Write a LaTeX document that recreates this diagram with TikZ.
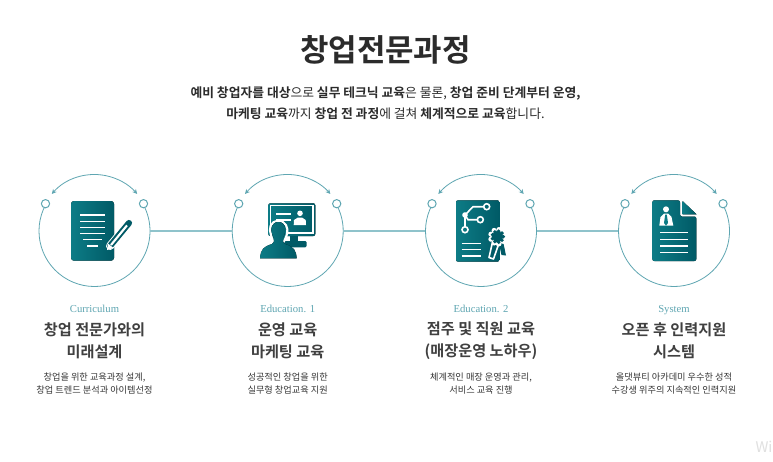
\documentclass[tikz,border=0pt]{standalone}
\usepackage{fontspec}
\setmainfont{Noto Sans CJK KR}[BoldFont={Noto Sans CJK KR Bold}]
\newfontfamily\latinfont{Liberation Serif}
\usetikzlibrary{arrows.meta}
\definecolor{tealA}{HTML}{0D7C86}
\definecolor{tealB}{HTML}{005A66}
\definecolor{ringcol}{HTML}{5FA6B2}
\definecolor{linkcol}{HTML}{8FC3CB}
\definecolor{inkcol}{HTML}{2B2B2B}
\tikzset{
    hub/.style={circle,minimum size=83.25pt,inner sep=0pt},
    dot/.style={circle,draw=ringcol,fill=white,line width=0.75pt,minimum size=6.2pt,inner sep=0pt},
    ring/.style={draw=ringcol,line width=0.6pt},
    link/.style={draw=linkcol,line width=0.8pt},
    swing/.style={draw=ringcol,line width=0.6pt,{Stealth[length=3.5pt,width=3.5pt]}-{Stealth[length=3.5pt,width=3.5pt]}},
    paper/.style={left color=tealA,right color=tealB,draw=none},
    wline/.style={draw=white,line width=1.05pt},
    toptitle/.style={font=\bfseries\fontsize{23.2}{26}\selectfont,text=inkcol,inner sep=0pt},
    lead/.style={font=\fontsize{9.6}{15.75}\selectfont,text=inkcol,align=center,inner sep=0pt},
    tag/.style={font=\latinfont\fontsize{8}{10}\selectfont,text=ringcol,inner sep=0pt,anchor=base},
    head/.style={font=\bfseries\fontsize{11.4}{16.5}\selectfont,text=inkcol!90,align=center,inner sep=0pt},
    desc/.style={font=\fontsize{6.9}{10}\selectfont,text=inkcol!95,align=center,inner sep=0pt}
}
\begin{document}
\begin{tikzpicture}[x=0.75pt,y=-0.75pt]
    \useasboundingbox[fill=white] (0,0) rectangle (773,461);
    \node[toptitle] (title) at (385.5,50) {창업전문과정};
    \node[lead] (intro) at (385.5,103) {\textbf{예비 창업자를 대상}으로 \textbf{실무 테크닉 교육}은 물론, \textbf{창업 준비 단계부터 운영,}\\\textbf{마케팅 교육}까지 \textbf{창업 전 과정}에 걸쳐 \textbf{체계적으로 교육}합니다.};
    % rings
    \foreach \n/\x in {1/94.5,2/287.7,3/481,4/674}
    {
        \node[hub] (hub\n) at (\x,231) {};
        \draw[ring] ([shift={(208.6:55.5)}]\x,231) arc[start angle=208.6,end angle=-28.6,radius=55.5];
        \draw[swing] ([shift={(221:56.5)}]\x,231) arc[start angle=221,end angle=319,radius=56.5];
        \node[dot] (left\n) at (\x-49,203.7) {};
        \node[dot] (right\n) at (\x+49,203.7) {};
    }
    \draw[link] (hub1) -- (hub2);
    \draw[link] (hub2) -- (hub3);
    \draw[link] (hub3) -- (hub4);
    % icon 1
    \fill[paper,rounded corners=2.2pt] (71,201) rectangle (114,260.7);
    \foreach \y/\a/\b in {215/80/105,221.3/80/105,227.7/80/105,233.7/80/105,239.7/83.3/101.7,246/87.3/97.7}
    {
        \draw[wline] (\a,\y) -- (\b,\y);
    }
    \draw[white,line width=6pt,line cap=round] (129,223) -- (110,246);
    \draw[tealB,line width=4.6pt,line cap=round] (129,223) -- (110,246);
    \draw[white,line width=1.6pt] (127,225.4) -- (111,245);
    \fill[white] (107,250) -- (108,243.5) -- (113.5,248) -- cycle;
    % icon 2
    \fill[paper,rounded corners=1.5pt] (268.3,203.3) rectangle (315.3,236);
    \draw[white,line width=0.8pt] (270.5,205.5) rectangle (313,233);
    \fill[tealB] (290,236) rectangle (298,242);
    \fill[tealB,rounded corners=1pt] (280,241) rectangle (306.7,247.3);
    \foreach \y/\a/\b in {214/276/291,220/276/291,226/276/286}
    {
        \draw[white,line width=0.9pt] (\a,\y) -- (\b,\y);
    }
    \fill[white] (300,213.3) circle (2.8);
    \fill[white] (293.7,225) -- (294,220) -- (298,217.5) -- (302,217.5) -- (305.7,220) -- (306,225) -- cycle;
    \draw[white,line width=1.6pt,fill=tealA] (278.4,221) .. controls (270,221) and (268.5,229) .. (271,235) .. controls (272,239) and (273,241) .. (274,243) -- (283,243) .. controls (284.5,240) and (286,238) .. (287,234) .. controls (288.5,228) and (286,221) .. (278.4,221) -- cycle;
    \fill[paper] (260,258.3) .. controls (261,249) and (263,247) .. (272,244) .. controls (274,243) and (274.5,241) .. (274,238) .. controls (270.5,233) and (270,222) .. (278.4,222) .. controls (287,222) and (286,233) .. (283,238) .. controls (282.5,241) and (283,243) .. (285,244) .. controls (294,247) and (296,250) .. (296.7,258.3) -- cycle;
    % icon 3
    \fill[paper,rounded corners=1.5pt] (456,200.3) rectangle (499.3,261.7);
    \foreach \y in {243.3,249.7,256}
    {
        \draw[wline] (461.7,\y) -- (480.7,\y);
    }
    \draw[white,line width=1.2pt] (483.7,206.7) -- (473,206.7) -- (465,215) -- (465,226.7);
    \draw[white,line width=1.2pt] (465,215) -- (468,219.7) -- (477.3,219.7);
    \foreach \x/\y in {486.7/206.7,480.3/219.7,465/229.7}
    {
        \draw[white,line width=1.2pt] (\x,\y) circle (3);
    }
    \fill[white] (465,215) circle (2.8);
    \draw[white,line width=1.2pt,fill=tealB,line join=round] (493,240) -- (489,257.5) -- (493.5,259) -- (498,246) -- cycle;
    \fill[tealB] (499,244) -- (501.5,255) -- (506,255.5) -- (503,241) -- cycle;
    \foreach \a in {0,40,...,320}
    {
        \fill[white] ([shift={(\a:7.2)}]497.7,236.7) circle (2.6);
    }
    \foreach \a in {0,40,...,320}
    {
        \fill[tealB] ([shift={(\a:5.6)}]497.7,236.7) circle (1.9);
    }
    \fill[tealB] (497.7,236.7) circle (5.6);
    % icon 4
    \fill[paper,rounded corners=1.5pt] (652.3,200.3) -- (680,200.3) -- (680,216.5) -- (696.3,216.5) -- (696.3,261) -- (652.3,261) -- cycle;
    \fill[paper] (682.5,201) -- (696.5,214.3) -- (682.5,214.3) -- cycle;
    \fill[white] (666,209.3) circle (3);
    \fill[white] (659.3,225.7) -- (660.5,217) -- (664,213.5) -- (668,213.5) -- (671.5,217) -- (673.3,225.7) -- cycle;
    \fill[tealA] (665.2,214.5) -- (666.8,214.5) -- (668,223) -- (666,225.7) -- (664,223) -- cycle;
    \foreach \y in {232.7,239.7,246,252.7}
    {
        \draw[wline] (660.3,\y) -- (688.3,\y);
    }
    % labels under the rings
    \foreach \n/\x/\t/\h/\d in {
        1/94.5/Curriculum/{창업 전문가와의\\미래설계}/{창업을 위한 교육과정 설계,\\창업 트렌드 분석과 아이템선정},
        2/287.7/Education. 1/{운영 교육\\마케팅 교육}/{성공적인 창업을 위한\\실무형 창업교육 지원},
        3/481/Education. 2/{점주 및 직원 교육\\(매장운영 노하우)}/{체계적인 매장 운영과 관리,\\서비스 교육 진행},
        4/674/System/{오픈 후 인력지원\\시스템}/{올댓뷰티 아카데미 우수한 성적\\수강생 위주의 지속적인 인력지원}}
    {
        \node[tag] (tag\n) at (\x,312) {\t};
        \node[head] (head\n) at (\x,340.5) {\h};
        \node[desc] (desc\n) at (\x,383.5) {\d};
    }
    \node[font=\fontsize{11}{12}\selectfont,text=black!12,inner sep=0pt] (mark) at (764,447) {Wi};
\end{tikzpicture}
\end{document}
